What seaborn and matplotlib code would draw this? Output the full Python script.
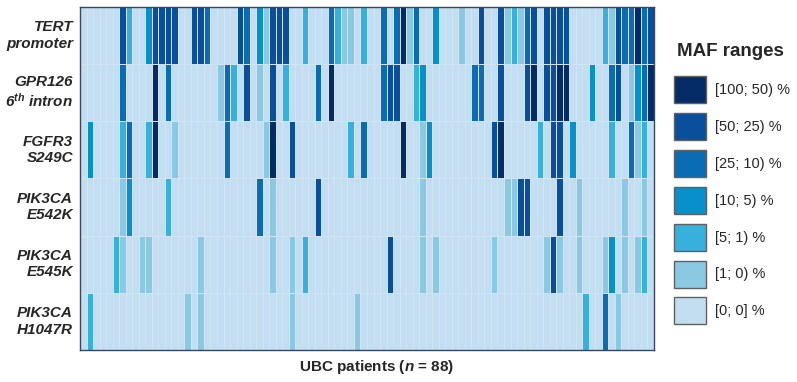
import numpy as np
import pandas as pd
import matplotlib
matplotlib.use("Agg")
import matplotlib.pyplot as plt
import seaborn as sns
from matplotlib.colors import ListedColormap
from matplotlib.patches import Patch

# Mutation rows and MAF classes (0 = [0; 0] %, 6 = [100; 50) %)
mutations = ["TERT\npromoter", "GPR126\n6$^{th}$ intron", "FGFR3\nS249C",
             "PIK3CA\nE542K", "PIK3CA\nE545K", "PIK3CA\nH1047R"]
maf_labels = ["[0; 0] %", "[1; 0) %", "[5; 1) %", "[10; 5) %",
              "[25; 10) %", "[50; 25) %", "[100; 50) %"]
maf_colors = ["#c3def1", "#8bc9e3", "#37b0dc", "#0691ca",
              "#0a6db4", "#0a4f9c", "#062c68"]

# MAF class per patient (88 patients)
tert = [0, 0, 0, 0, 0, 0, 5, 2, 0, 0, 3, 5, 5, 5, 5, 0, 0, 5, 5, 4, 0, 0,
        0, 0, 5, 4, 0, 3, 1, 5, 5, 5, 0, 0, 2, 0, 0, 0, 4, 2, 1, 1, 0, 2,
        0, 0, 4, 0, 4, 6, 1, 4, 0, 0, 3, 0, 0, 0, 1, 0, 0, 5, 0, 0, 5, 1,
        2, 1, 4, 5, 0, 5, 5, 5, 5, 0, 0, 0, 0, 0, 2, 1, 5, 4, 4, 6, 4, 5]
gpr126 = [0, 0, 0, 0, 0, 0, 4, 0, 0, 0, 0, 6, 0, 4, 0, 0, 0, 0, 0, 0, 0, 1,
          4, 2, 0, 5, 0, 1, 0, 5, 0, 2, 0, 0, 0, 0, 4, 0, 6, 0, 0, 0, 0, 0,
          0, 0, 4, 5, 5, 0, 0, 2, 3, 0, 0, 0, 0, 0, 0, 0, 4, 4, 0, 0, 5, 0,
          0, 0, 5, 6, 0, 5, 5, 6, 6, 0, 0, 0, 3, 0, 0, 4, 5, 0, 1, 3, 4, 6]
fgfr3 = [0, 3, 0, 0, 0, 0, 2, 4, 0, 0, 2, 6, 0, 0, 1, 0, 0, 0, 0, 0, 0, 0,
         4, 0, 0, 0, 0, 0, 1, 6, 0, 0, 5, 0, 0, 0, 0, 0, 0, 0, 0, 2, 0, 4,
         0, 0, 0, 0, 0, 6, 0, 0, 1, 3, 0, 0, 0, 0, 0, 0, 0, 0, 0, 5, 6, 0,
         0, 0, 0, 0, 2, 0, 5, 5, 0, 3, 0, 0, 0, 0, 0, 2, 0, 0, 4, 1, 2, 0]
e542k = [0, 0, 0, 0, 0, 0, 1, 3, 0, 0, 0, 0, 0, 2, 0, 0, 0, 0, 0, 0, 0, 0,
         0, 0, 0, 0, 0, 4, 0, 1, 0, 0, 0, 0, 0, 0, 5, 0, 0, 0, 0, 0, 0, 0,
         0, 0, 0, 0, 0, 0, 0, 0, 1, 0, 0, 0, 0, 0, 0, 0, 0, 0, 0, 0, 0, 1,
         1, 5, 5, 0, 0, 0, 0, 5, 0, 0, 1, 0, 0, 0, 0, 0, 0, 1, 0, 0, 1, 0]
e545k = [0, 0, 0, 0, 0, 2, 1, 0, 0, 1, 1, 0, 0, 0, 0, 0, 0, 0, 1, 0, 0, 0,
         0, 0, 0, 0, 0, 0, 0, 1, 0, 0, 1, 0, 2, 0, 0, 0, 0, 0, 0, 0, 0, 0,
         0, 0, 0, 5, 0, 0, 0, 0, 1, 0, 1, 0, 0, 0, 0, 0, 0, 0, 0, 1, 0, 0,
         0, 0, 0, 0, 0, 1, 5, 1, 0, 0, 1, 0, 0, 0, 1, 3, 0, 1, 0, 1, 2, 0]
h1047r = [0, 2, 0, 0, 0, 0, 0, 0, 0, 0, 0, 0, 0, 0, 0, 0, 1, 0, 1, 0, 0, 0,
          0, 0, 0, 0, 0, 0, 0, 0, 0, 0, 1, 0, 0, 0, 0, 0, 0, 0, 0, 0, 1, 0,
          0, 0, 0, 0, 0, 0, 0, 0, 0, 0, 0, 0, 0, 0, 0, 0, 0, 0, 0, 0, 0, 0,
          0, 0, 0, 0, 0, 0, 0, 0, 0, 0, 0, 2, 0, 0, 4, 0, 1, 0, 0, 0, 0, 0]

patients = [f"P{i + 1}" for i in range(len(tert))]
df = pd.DataFrame([tert, gpr126, fgfr3, e542k, e545k, h1047r],
                  index=mutations, columns=patients)

sns.set_theme(style="white")
plt.rcParams["font.family"] = ["Liberation Sans", "DejaVu Sans"]
plt.rcParams["mathtext.fontset"] = "custom"
plt.rcParams["mathtext.it"] = "Liberation Sans:italic:bold"
plt.rcParams["mathtext.rm"] = "Liberation Sans:bold"
plt.rcParams["mathtext.bf"] = "Liberation Sans:bold"

fig = plt.figure(figsize=(7.97, 3.82), dpi=100)
ax = fig.add_axes([0.1004, 0.0838, 0.7202, 0.8979])

sns.heatmap(df, ax=ax, cmap=ListedColormap(maf_colors), vmin=-0.5, vmax=6.5,
            cbar=False, linewidths=0.5, linecolor="#cfe4f4", xticklabels=False)

ax.set_yticklabels(mutations, rotation=0, fontsize=11, fontweight="bold",
                   fontstyle="italic", ha="right", va="center")
ax.tick_params(axis="y", length=0, pad=5)
ax.tick_params(axis="x", length=0)
for s in ax.spines.values():
    s.set_visible(True)
    s.set_color("#34495e")
    s.set_linewidth(1)

ax.set_xlabel(r"UBC patients ($n$ = 88)", fontsize=11, fontweight="bold",
              labelpad=6, x=0.517)
ax.set_ylabel("")

# Legend, darkest class on top; title placed separately
fig.text(0.9165, 0.8534, "MAF ranges", ha="center", va="baseline",
         fontsize=13.5, fontweight="bold")
handles = [Patch(facecolor=c, edgecolor="#606060", linewidth=1) for c in maf_colors[::-1]]
fig.legend(handles, maf_labels[::-1], loc="upper left",
           bbox_to_anchor=(0.8457, 0.801), borderaxespad=0, borderpad=0,
           frameon=False, fontsize=10.5,
           handlelength=2.2, handleheight=2.47, labelspacing=0.68,
           handletextpad=0.6)

fig.savefig("out.png", dpi=100)
